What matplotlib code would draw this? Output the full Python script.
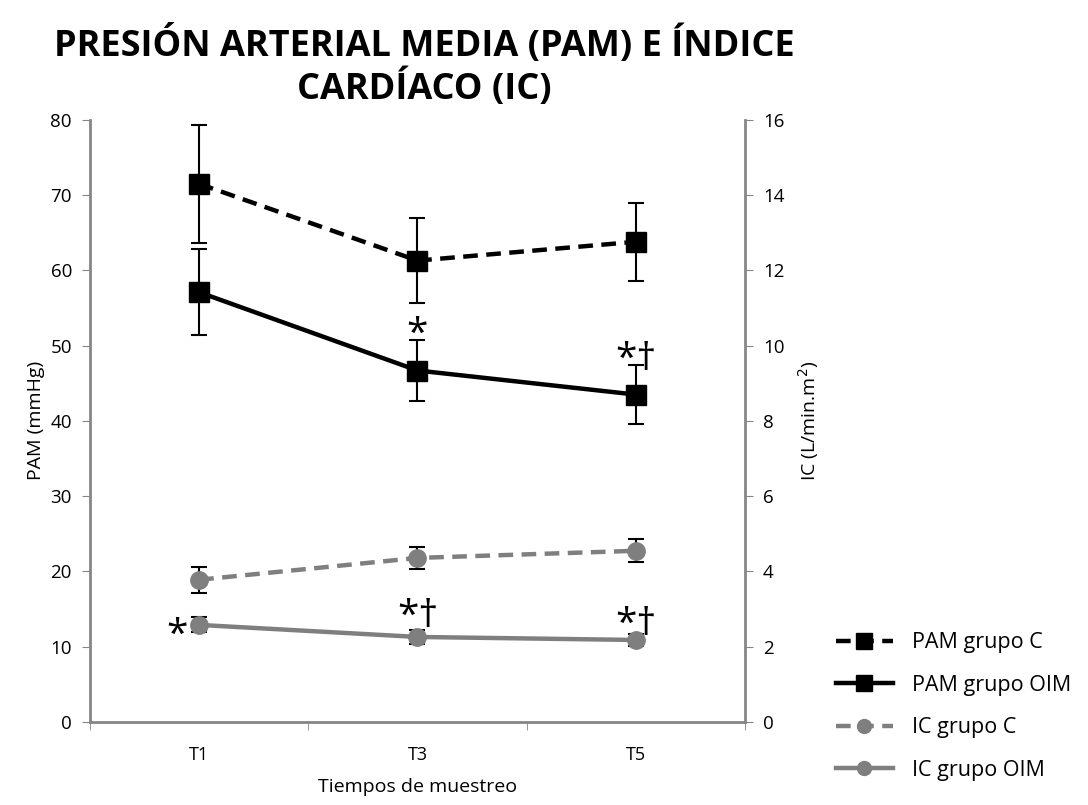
import numpy as np
import matplotlib.pyplot as plt
from matplotlib.lines import Line2D

# data
times = ['T1', 'T3', 'T5']
pam_c = [71.5, 61.3, 63.8]
pam_c_err = [7.8, 5.6, 5.2]
pam_oim = [57.1, 46.7, 43.5]
pam_oim_err = [5.7, 4.1, 3.9]
ic_c = [3.78, 4.36, 4.55]
ic_c_err = [0.35, 0.3, 0.3]
ic_oim = [2.58, 2.26, 2.18]
ic_oim_err = [0.2, 0.18, 0.15]

plt.rcParams['font.family'] = ['Open Sans', 'DejaVu Sans']

axis_gray = '#868686'
ic_gray = '#7f7f7f'
dash = (0, (3.3, 1.9))
x = np.arange(len(times))

fig = plt.figure(figsize=(10.88, 8.05), dpi=100)
ax = fig.add_axes([0.0827, 0.1031, 0.602, 0.748])
ax2 = ax.twinx()

err_kw = dict(ecolor='black', elinewidth=1.5, capsize=6, capthick=1.5)

ax.errorbar(x, pam_c, yerr=pam_c_err, color='black', ls=dash, lw=3.2,
            marker='s', ms=14, **err_kw)
ax.errorbar(x, pam_oim, yerr=pam_oim_err, color='black', ls='-', lw=3.2,
            marker='s', ms=14, **err_kw)
ax2.errorbar(x, ic_c, yerr=ic_c_err, color=ic_gray, ls=dash, lw=3.2,
             marker='o', ms=12.5, **err_kw)
ax2.errorbar(x, ic_oim, yerr=ic_oim_err, color=ic_gray, ls='-', lw=3.2,
             marker='o', ms=12.5, **err_kw)

ax.set_xlim(-0.5, 2.5)
ax.set_ylim(0, 80)
ax2.set_ylim(0, 16)
ax.set_yticks(np.arange(0, 81, 10))
ax2.set_yticks(np.arange(0, 17, 2))
ax.set_xticks(x)
ax.set_xticklabels(times)
ax.set_xticks([-0.5, 0.5, 1.5, 2.5], minor=True)
ax.tick_params(axis='x', which='major', length=0, pad=17, labelsize=13)
ax.tick_params(axis='x', which='minor', length=6, color=axis_gray, direction='out')
ax.tick_params(axis='y', length=6, color=axis_gray, labelsize=13.5, pad=7)
ax2.tick_params(axis='y', length=6, color=axis_gray, labelsize=13.5, pad=7)

for a in (ax, ax2):
    a.spines['top'].set_visible(False)
    for s in ('left', 'right', 'bottom'):
        a.spines[s].set_color(axis_gray)
        a.spines[s].set_linewidth(2)
ax.spines['right'].set_visible(False)
ax2.spines['left'].set_visible(False)
ax2.spines['bottom'].set_visible(False)

ax.set_ylabel('PAM (mmHg)', fontsize=14, labelpad=4)
ax2.set_ylabel('IC (L/min.m$^2$)', fontsize=14, labelpad=8)
ax.set_xlabel('Tiempos de muestreo', fontsize=14, labelpad=10)

fig.text(0.39, 0.968, 'PRESIÓN ARTERIAL MEDIA (PAM) E ÍNDICE\nCARDÍACO (IC)',
         ha='center', va='top', fontsize=26, fontweight='bold',
         linespacing=1.15, multialignment='center')

# significance marks
mk = dict(fontsize=28, ha='center', va='center', color='black')
ax.text(1, 51.4, '*', **mk)
ax.text(2, 48.1, '*†', **mk)
ax2.text(-0.1, 2.3, '*', **mk)
ax2.text(1, 2.78, '*†', **mk)
ax2.text(2, 2.58, '*†', **mk)

handles = [
    Line2D([], [], color='black', ls=dash, lw=3.2, marker='s', ms=11),
    Line2D([], [], color='black', ls='-', lw=3.2, marker='s', ms=11),
    Line2D([], [], color=ic_gray, ls=dash, lw=3.2, marker='o', ms=10),
    Line2D([], [], color=ic_gray, ls='-', lw=3.2, marker='o', ms=10),
]
labels = ['PAM grupo C', 'PAM grupo OIM', 'IC grupo C', 'IC grupo OIM']
fig.legend(handles, labels, loc='lower left', bbox_to_anchor=(0.768, 0.03),
           frameon=False, fontsize=15.5, handlelength=2.65, handletextpad=0.9,
           labelspacing=1.0, borderpad=0, borderaxespad=0)

fig.savefig('out.png', dpi=100)
